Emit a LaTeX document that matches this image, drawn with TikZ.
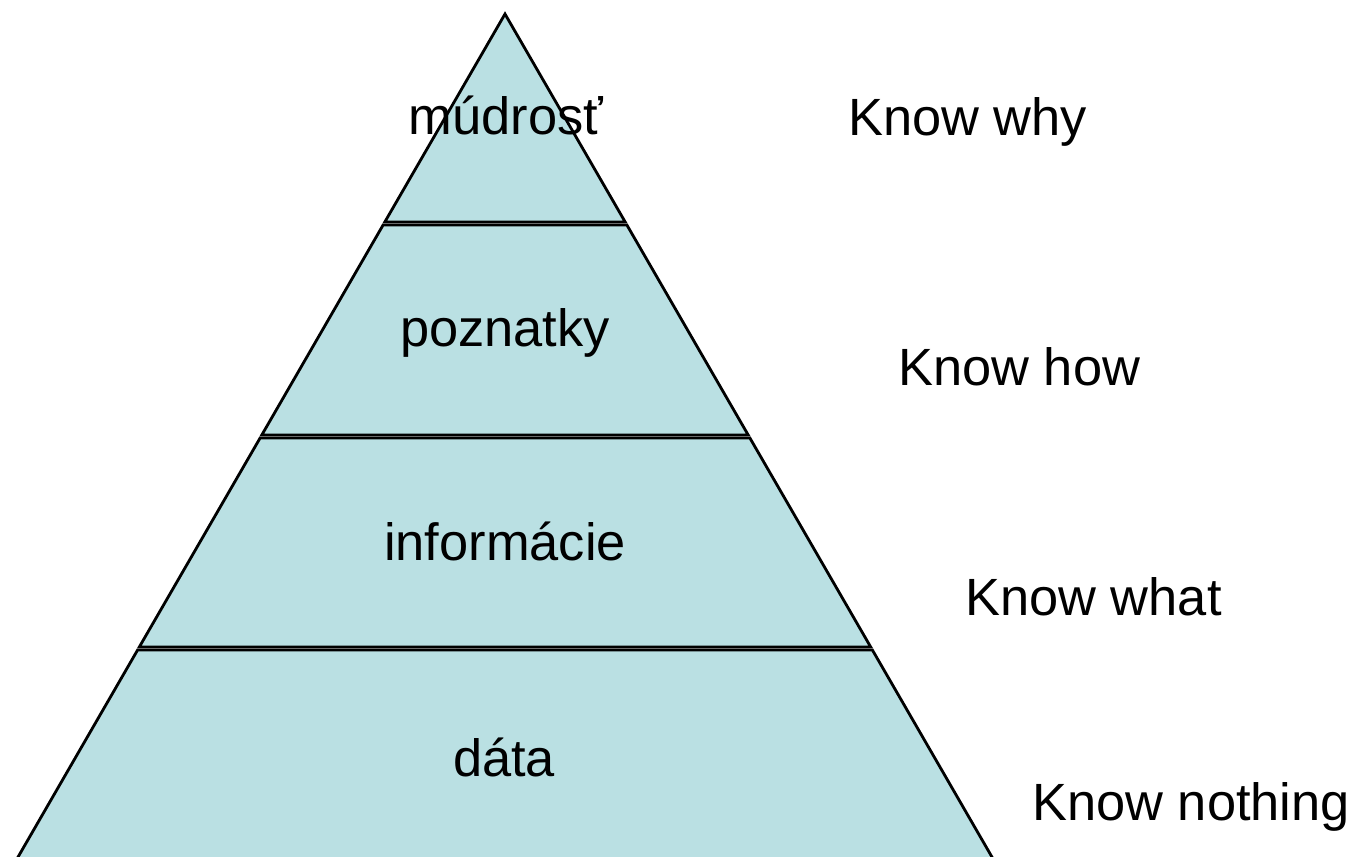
\documentclass[tikz,border=0pt]{standalone}
\usepackage{fontspec}
\setmainfont{Liberation Sans}
\usepackage{tikz}
\definecolor{pyrfill}{RGB}{186,224,227}
\tikzset{
	layer/.style={draw=black, line width=1.4pt, fill=pyrfill, line join=miter},
	lbl/.style={anchor=base, inner sep=0pt, font=\fontsize{26.2}{30}\selectfont},
	know/.style={anchor=base west, inner sep=0pt, font=\fontsize{26.2}{30}\selectfont}
}

\begin{document}
\begin{tikzpicture}[x=0.5pt, y=-0.5pt]
				%%%%% START %%%%%
				\useasboundingbox (0, 0) rectangle (1356, 857);
				
				\draw[layer] (505, 14) -- (625.2, 222) -- (384.8, 222) -- cycle;
				\draw[layer] (383.1, 225) -- (626.9, 225) -- (748.2, 435) -- (261.8, 435) -- cycle;
				\draw[layer] (260.1, 438) -- (749.9, 438) -- (870.7, 647) -- (139.3, 647) -- cycle;
				\draw[layer] (137.6, 650) -- (872.4, 650) -- (993.7, 860) -- (16.3, 860) -- cycle;
				
				\node[lbl] (mudrost) at (506, 134) {múdrosť};
				\node[lbl] (poznatky) at (505, 346) {poznatky};
				\node[lbl] (informacie) at (505, 560) {informácie};
				\node[lbl] (data) at (504, 776) {dáta};
				
				\node[know] (why) at (848, 135) {Know why};
				\node[know] (how) at (898, 385) {Know how};
				\node[know] (what) at (965, 615) {Know what};
				\node[know] (nothing) at (1032, 820) {Know nothing};
				%%%%% END %%%%%
\end{tikzpicture}
\end{document}
